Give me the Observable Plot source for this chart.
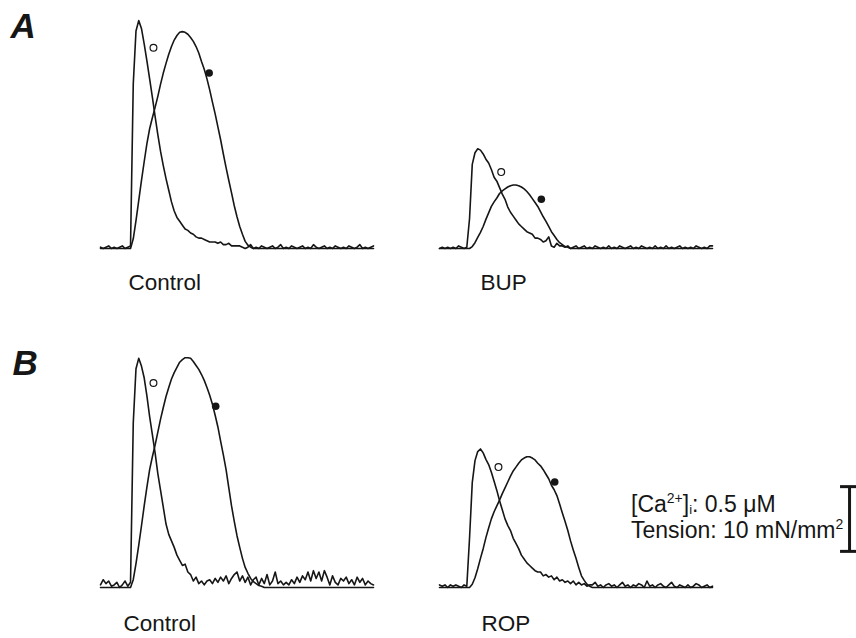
<!DOCTYPE html>
<html>
<head>
<meta charset="utf-8">
<script src="https://cdn.jsdelivr.net/npm/d3@7"></script>
<script src="https://cdn.jsdelivr.net/npm/@observablehq/plot@0.6"></script>
<style>
  html, body { margin: 0; padding: 0; background: #fff; }
  #chart { width: 856px; height: 638px; overflow: hidden; }
</style>
</head>
<body>
<div id="chart"></div>
<script>
// ---------- DATA ----------
// sample times (ms) shared by every trace
const time = [0,10,20,30,40,50,60,70,80,90,100,110,120,130,140,150,160,170,180,190,200,
  210,220,230,240,250,260,270,280,290,300,310,320,330,340,350,360,370,380,390,400,
  410,420,430,440,450,460,470,480,490,500,510,520,530,540,550,560,570,580,590,600,
  610,620,630,640,650,660,670,680,690,700,710,720,730,740,750,760,770,780,790,800,
  810,820,830,840,850,860,870,880,890,900,910,920,930,940,950,960,970,980,990,1000];

// Δ[Ca2+]i (µM) and tension (mN/mm²)
const caControlA = [.01,0,.01,.02,0,.01,0,.01,.02,0,.01,
  .02,1.27,1.68,1.76,1.70,1.58,1.45,1.31,1.17,1.02,
  .88,.75,.64,.54,.45,.36,.29,.24,.21,.18,
  .15,.14,.12,.11,.09,.08,.08,.07,.06,.05,
  .05,.05,.04,.05,.03,.03,.04,.02,.02,.02,
  .02,.01,0,.01,.03,0,.01,0,.02,.01,
  0,.01,.02,0,.01,.03,0,.01,0,.02,
  .01,0,.01,.02,0,.01,0,.03,.01,0,
  .01,.02,0,.01,0,.02,.01,0,.01,0,
  .02,.01,0,.01,.03,0,.01,0,.01,.02];
const tensionControlA = [0,0,0,0,0,0,0,0,0,0,0,
  0,1.5,4.3,7.4,10.5,13.4,16.2,18.5,20.2,21.8,
  23.5,25.4,27.1,28.6,30.0,31.2,32.2,32.9,33.4,33.5,
  33.4,33.1,32.6,32.0,31.2,30.2,28.9,27.7,26.2,24.5,
  22.6,20.8,18.8,16.8,14.6,12.5,10.5,8.6,6.6,4.9,
  3.4,2.2,1.1,0.5,0.2,0,0,0,0,0,
  0,0,0,0,0,0,0,0,0,0,
  0,0,0,0,0,0,0,0,0,0,
  0,0,0,0,0,0,0,0,0,0,
  0,0,0,0,0,0,0,0,0,0];
const caBUP = [0,.01,0,.01,0,.01,0,.02,.01,0,.01,
  .23,.65,.74,.77,.76,.73,.69,.66,.61,.55,
  .52,.47,.42,.38,.32,.28,.25,.22,.19,.17,
  .15,.13,.12,.11,.08,.08,.07,.05,.06,.09,
  .02,.01,.04,.02,.02,.01,.02,0,.01,.02,
  0,.01,.02,0,.01,0,.02,.01,0,.01,
  0,.02,0,.01,0,.02,.01,0,.01,.02,
  0,.01,0,.02,.01,0,.01,0,.02,0,
  .01,0,.02,0,.01,0,.01,.02,0,.01,
  0,.01,0,.02,.01,0,.01,0,.02,.02];
const tensionBUP = [0,0,0,0,0,0,0,0,0,0,0,
  0,0.3,0.9,1.7,2.5,3.4,4.5,5.5,6.5,7.2,
  7.8,8.5,8.9,9.2,9.5,9.7,9.8,9.8,9.7,9.5,
  9.2,8.8,8.3,7.7,7.1,6.5,5.7,4.9,4.2,3.4,
  2.6,2.0,1.4,0.9,0.6,0.3,0.2,0,0,0,
  0,0,0,0,0,0,0,0,0,0,
  0,0,0,0,0,0,0,0,0,0,
  0,0,0,0,0,0,0,0,0,0,
  0,0,0,0,0,0,0,0,0,0,
  0,0,0,0,0,0,0,0,0,0];
const caControlB = [.02,.06,.03,.05,.01,.02,.04,0,.02,.05,.01,
  .04,1.27,1.69,1.77,1.71,1.62,1.48,1.32,1.18,1.04,
  .88,.75,.62,.49,.41,.36,.31,.25,.21,.17,
  .18,.12,.10,.05,.08,.03,.05,.02,.05,.06,
  .03,.07,.04,.08,.05,.09,.03,.07,.10,.12,
  .05,.09,.04,.08,.02,.06,.08,.02,.07,.03,
  .10,.02,.05,.12,.03,.05,.02,.04,.02,.06,
  .03,.08,.04,.09,.06,.12,.05,.13,.07,.12,
  .05,.13,.08,.02,.09,.04,.02,.07,.05,.08,
  .03,.06,.02,.08,.04,.07,.02,.05,.03,.02];
const tensionControlB = [0,0,0,0,0,0,0,0,0,0,0,
  0,1.2,3.7,6.5,9.5,12.6,15.5,18.2,20.2,22.0,
  24.0,26.0,27.8,29.5,30.9,32.2,33.2,34.0,34.8,35.2,
  35.5,35.5,35.4,34.9,34.3,33.7,32.9,32.0,30.9,29.7,
  28.3,26.6,24.8,22.6,20.5,18.2,15.4,12.6,10.2,8.0,
  6.2,4.5,3.1,2.2,1.4,0.9,0.6,0.3,0.2,0,
  0,0,0,0,0,0,0,0,0,0,
  0,0,0,0,0,0,0,0,0,0,
  0,0,0,0,0,0,0,0,0,0,
  0,0,0,0,0,0,0,0,0,0];
const caROP = [.02,.01,.02,0,.02,.01,.02,.01,0,.02,.01,
  .38,.81,.98,1.05,1.07,1.04,.99,.95,.89,.82,
  .75,.67,.60,.53,.48,.44,.38,.34,.30,.25,
  .22,.19,.17,.15,.13,.12,.12,.09,.10,.08,
  .09,.06,.08,.05,.06,.04,.05,.03,.05,.02,
  .04,.02,.03,.01,.02,.02,.04,.01,.02,0,
  .02,.03,.01,.02,0,.02,.04,.01,.02,0,
  .02,.01,.03,.02,0,.05,.01,.02,0,.02,
  .03,.01,0,.02,.04,.01,0,.02,.01,0,
  .02,0,.01,.03,.02,0,.01,.02,0,.01];
const tensionROP = [0,0,0,0,0,0,0,0,0,0,0,
  0,0.5,1.5,2.9,4.5,6.0,7.7,9.2,10.6,11.7,
  12.6,13.5,14.5,15.4,16.3,17.2,18.0,18.6,19.2,19.7,
  20.0,20.2,20.2,20.0,19.7,19.2,18.8,18.2,17.5,16.8,
  15.8,15.1,14.2,12.9,11.5,10.2,8.8,7.2,5.8,4.5,
  3.1,1.8,1.1,0.5,0.2,0,0,0,0,0,
  0,0,0,0,0,0,0,0,0,0,
  0,0,0,0,0,0,0,0,0,0,
  0,0,0,0,0,0,0,0,0,0,
  0,0,0,0,0,0,0,0,0,0];

// panels
const panelRow   = ["A", "A", "B", "B"];
const panelCol   = ["left", "right", "left", "right"];
const panelLabel = ["Control", "BUP", "Control", "ROP"];
const panelCa      = [caControlA, caBUP, caControlB, caROP];
const panelTension = [tensionControlA, tensionBUP, tensionControlB, tensionROP];

// marker symbols (○ = [Ca2+]i, ● = tension): time (ms) and value
const markerCaT       = [194, 226, 194, 216];
const markerCaValue   = [1.55, 0.59, 1.58, 0.93];
const markerTensionT     = [398, 373, 422, 422];
const markerTensionValue = [27.1, 7.6, 28.0, 16.3];

// calibration bar
const scaleCa = 0.5;       // µM
const scaleTension = 10;   // mN/mm²

// ---------- BUILD ----------
const toCaUnits = scaleCa / scaleTension; // tension drawn on the Ca scale via calibration
const traces = [];
const markers = [];
panelRow.forEach((row, p) => {
  const col = panelCol[p];
  time.forEach((t, i) => {
    traces.push({row, col, series: "ca-" + p, t, v: panelCa[p][i]});
  });
  time.forEach((t, i) => {
    traces.push({row, col, series: "ten-" + p, t, v: panelTension[p][i] * toCaUnits});
  });
  markers.push({row, col, kind: "ca", t: markerCaT[p], v: markerCaValue[p]});
  markers.push({row, col, kind: "tension", t: markerTensionT[p], v: markerTensionValue[p] * toCaUnits});
});
const labels = panelRow.map((row, p) => ({row, col: panelCol[p], text: panelLabel[p]}));
const letters = [{row: "A", col: "left", text: "A"}, {row: "B", col: "left", text: "B"}];

const font = "'Liberation Sans', Arial, Helvetica, sans-serif";
const ink = "#161616";
const labelDx = [28, 41, 23, 42];
const labelDy = [41, 41, 43.5, 43.5];

const barBase = 0.279; // µM above baseline, where the calibration bar starts

const chart = Plot.plot({
  width: 856,
  height: 638,
  marginTop: 8,
  marginBottom: 50,
  marginLeft: 100,
  marginRight: 143,
  x: {domain: [0, 1000], axis: null},
  y: {domain: [0, 1.846], axis: null},
  fx: {domain: ["left", "right"], axis: null, paddingInner: 0.1944, paddingOuter: 0},
  fy: {domain: ["A", "B"], axis: null, paddingInner: 0.294, paddingOuter: 0},
  style: {fontFamily: font, background: "#fff", color: ink, overflow: "visible"},
  marks: [
    Plot.line(traces, {x: "t", y: "v", z: "series", fx: "col", fy: "row",
      stroke: ink, strokeWidth: 1.6, strokeLinejoin: "round"}),
    Plot.dot(markers.filter(d => d.kind === "ca"), {x: "t", y: "v", fx: "col", fy: "row",
      r: 3.4, fill: "#fff", stroke: ink, strokeWidth: 1.2}),
    Plot.dot(markers.filter(d => d.kind === "tension"), {x: "t", y: "v", fx: "col", fy: "row",
      r: 3.8, fill: ink, stroke: "none"}),
    ...labels.map((d, p) => Plot.text([d], {fx: "col", fy: "row", text: "text",
      frameAnchor: "bottom-left", lineAnchor: "bottom", textAnchor: "start",
      dx: labelDx[p], dy: labelDy[p], fontSize: 22.5, fill: ink, fontFamily: font})),
    Plot.text(letters.filter(d => d.row === "A"), {fx: "col", fy: "row", text: "text",
      frameAnchor: "top-left", lineAnchor: "top", textAnchor: "start",
      dx: -90, dy: 3.5, fontSize: 35, fontWeight: "bold", fontStyle: "italic", fill: ink, fontFamily: font}),
    Plot.text(letters.filter(d => d.row === "B"), {fx: "col", fy: "row", text: "text",
      frameAnchor: "top-left", lineAnchor: "top", textAnchor: "start",
      dx: -88, dy: 2, fontSize: 35, fontWeight: "bold", fontStyle: "italic", fill: ink, fontFamily: font}),
    // calibration bar
    Plot.ruleX([scaleCa], {fx: () => "right", fy: () => "B", x: 1502,
      y1: barBase, y2: d => barBase + d, stroke: ink, strokeWidth: 3}),
    Plot.ruleY([barBase, barBase + scaleCa], {fx: () => "right", fy: () => "B", y: d => d,
      x1: 1469, x2: 1535, stroke: ink, strokeWidth: 3})
  ]
});

document.getElementById("chart").appendChild(chart);

// calibration text (two lines in one text element) with super/subscripts
const svg = d3.select(chart);
const cal = svg.append("text").attr("x", 631).attr("y", 511.5).attr("text-anchor", "start")
  .attr("font-family", font).attr("font-size", 23).attr("fill", ink);
cal.append("tspan").text("[Ca");
cal.append("tspan").attr("font-size", 14).attr("dy", -9).text("2+");
cal.append("tspan").attr("dy", 9).text("]");
cal.append("tspan").attr("font-size", 13).attr("dy", 2).text("i");
cal.append("tspan").attr("dy", -2).text(": " + scaleCa + " \u03bcM");
cal.append("tspan").attr("x", 631).attr("dy", 26).text("Tension: " + scaleTension + " mN/mm");
cal.append("tspan").attr("font-size", 14).attr("dy", -9).text("2");
</script>
</body>
</html>
